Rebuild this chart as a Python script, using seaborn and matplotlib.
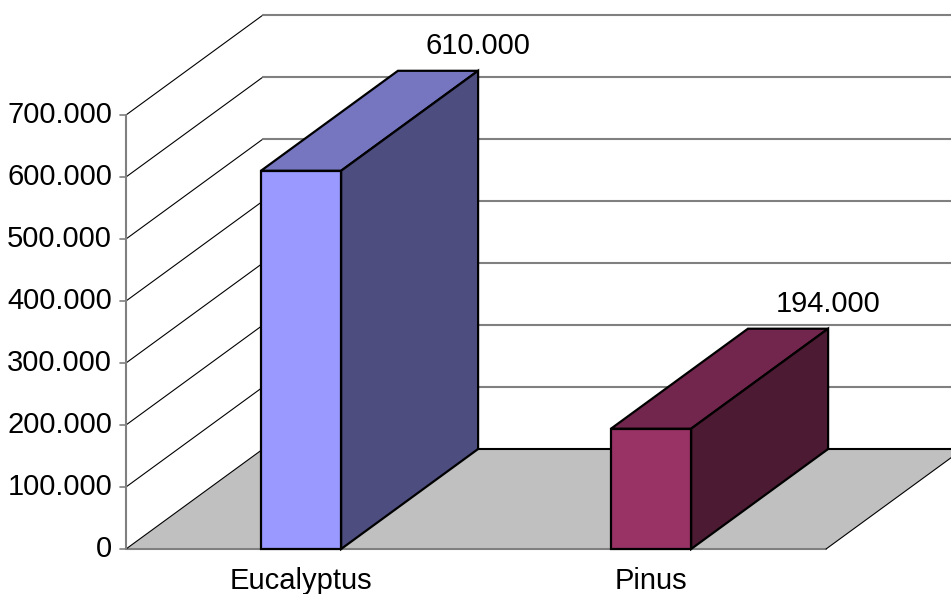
import pandas as pd
import seaborn as sns
import matplotlib.pyplot as plt
from matplotlib.patches import Polygon

species = ["Eucalyptus", "Pinus"]
values = [610000, 194000]
front_colors = ["#9999FF", "#993366"]
top_colors = ["#7575C0", "#73264D"]
side_colors = ["#4D4D80", "#4D1A33"]
ticks = [0, 100000, 200000, 300000, 400000, 500000, 600000, 700000]

# fake 3d: depth offset in data units
dx, dy = 0.3914, 161300
w = 0.229
x0, x1 = -0.5, 1.5

sns.set_theme(style="white")
plt.rcParams['font.family'] = ['Liberation Sans', 'DejaVu Sans']

fig = plt.figure(figsize=(9.51, 5.94), dpi=100)
ax = fig.add_axes([0, 0, 1, 1])

def fmt(v):
    return f"{v:,}".replace(",", ".")

# floor
ax.add_patch(Polygon([(x0, 0), (x1, 0), (x1 + dx, dy), (x0 + dx, dy)],
                     closed=True, facecolor="#C0C0C0", edgecolor="none", zorder=1))
ax.plot([x0, x1], [0, 0], color="#808080", lw=1.5, zorder=2)
ax.plot([x1, x1 + dx], [0, dy], color="black", lw=0.8, zorder=2)

# walls and gridlines
for t in ticks:
    ax.plot([x0, x0 + dx], [t, t + dy], color="black", lw=0.8, zorder=2)
    ax.plot([x0 + dx, x1 + dx + 1], [t + dy, t + dy],
            color="black" if t == 0 else "#808080", lw=1.5, zorder=2)
    ax.plot([x0 - 0.018, x0], [t, t], color="#808080", lw=1.2, zorder=2)
    ax.text(x0 - 0.04, t, fmt(t), ha="right", va="center", fontsize=21, color="black")
ax.plot([x0, x0], [0, ticks[-1]], color="#808080", lw=1.5, zorder=2)

# bars (front faces)
df = pd.DataFrame({"species": species, "value": values})
sns.barplot(data=df, x="species", y="value", hue="species", palette=front_colors,
            width=w, saturation=1, edgecolor="black", linewidth=1.6,
            legend=False, ax=ax, zorder=5)

for i, v in enumerate(values):
    left, right = i - w / 2, i + w / 2
    ax.add_patch(Polygon([(left, v), (right, v), (right + dx, v + dy), (left + dx, v + dy)],
                         closed=True, facecolor=top_colors[i], edgecolor="black",
                         lw=1.6, zorder=4))
    ax.add_patch(Polygon([(right, 0), (right + dx, dy), (right + dx, v + dy), (right, v)],
                         closed=True, facecolor=side_colors[i], edgecolor="black",
                         lw=1.6, zorder=4))
    ax.annotate(fmt(v), (right + dx, v + dy), xytext=(0, 18), textcoords="offset points",
                ha="center", va="center", fontsize=21, color="black")
    ax.text(i, -51000, species[i], ha="center", va="center", fontsize=21, color="black")

ax.set_xlim(-0.86, 1.857)
ax.set_ylim(-72581, 885484)
ax.axis("off")

plt.savefig("out.png", dpi=100)
